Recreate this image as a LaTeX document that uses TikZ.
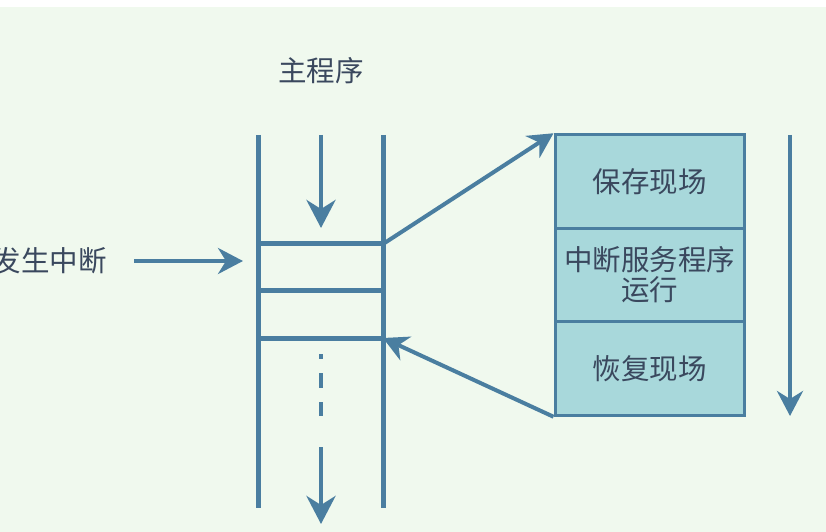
\documentclass[tikz,border=0pt]{standalone}
\usepackage{fontspec}
\newfontfamily\cjk{Noto Sans CJK SC}
\usetikzlibrary{arrows.meta}
\definecolor{bg}{RGB}{240,249,238}
\definecolor{ln}{RGB}{74,126,160}
\definecolor{bx}{RGB}{168,216,219}
\definecolor{tx}{RGB}{58,72,94}
\begin{document}
\begin{tikzpicture}[x=1bp,y=-1bp,
  lbl/.style={font=\cjk\fontsize{28.5bp}{30bp}\selectfont, text=tx, inner sep=0pt},
  rail/.style={draw=ln, line width=5bp},
  arr/.style={draw=ln, line width=4.5bp, -{Stealth[length=28bp,width=29bp,inset=9bp]}},
  arrs/.style={draw=ln, line width=4bp, -{Stealth[length=25bp,width=26bp,inset=8bp]}},
  part/.style={draw=ln, fill=bx, line width=3bp, minimum width=189bp, minimum height=93.5bp, inner sep=0pt, lbl, align=center}]
\useasboundingbox (0,0) rectangle (826,532);
\fill[white] (0,0) rectangle (826,532);
\fill[bg] (0,7) rectangle (826,532);
% labels
\node[lbl] (main) at (321,71) {主程序};
\node[lbl, anchor=east] (irq) at (107,261) {发生中断};
% ladder
\coordinate (l1) at (258,135); \coordinate (l2) at (258,508);
\coordinate (r1) at (383,135); \coordinate (r2) at (383,508);
\draw[rail] (l1) -- (l2);
\draw[rail] (r1) -- (r2);
\coordinate (h1l) at (258,244); \coordinate (h1r) at (383,244);
\coordinate (h2l) at (258,291); \coordinate (h2r) at (383,291);
\coordinate (h3l) at (258,338); \coordinate (h3r) at (383,338);
\draw[rail] (h1l) -- (h1r);
\draw[rail] (h2l) -- (h2r);
\draw[rail] (h3l) -- (h3r);
% center flow
\coordinate (c1) at (321,135); \coordinate (c2) at (321,228);
\draw[arr] (c1) -- (c2);
\coordinate (d1) at (321,354); \coordinate (d2) at (321,416);
\draw[draw=ln, line width=4.5bp, dash pattern=on 15bp off 14bp, dash phase=10bp] (d1) -- (d2);
\coordinate (e1) at (321,447); \coordinate (e2) at (321,524);
\draw[arr] (e1) -- (e2);
% interrupt arrow
\coordinate (i1) at (134,261); \coordinate (i2) at (243,261);
\draw[arrs] (i1) -- (i2);
% box
\node[part] (save) at (649.5,181.5) {保存现场};
\node[part] (isr) at (649.5,275) {中断服务程序\\运行};
\node[part] (rest) at (649.5,368.5) {恢复现场};
% connectors
\draw[arrs] (h1r) -- (save.north west);
\draw[arrs] (rest.south west) -- (h3r);
% right arrow
\coordinate (ra1) at (790,135); \coordinate (ra2) at (790,416);
\draw[arrs] (ra1) -- (ra2);
\end{tikzpicture}
\end{document}
